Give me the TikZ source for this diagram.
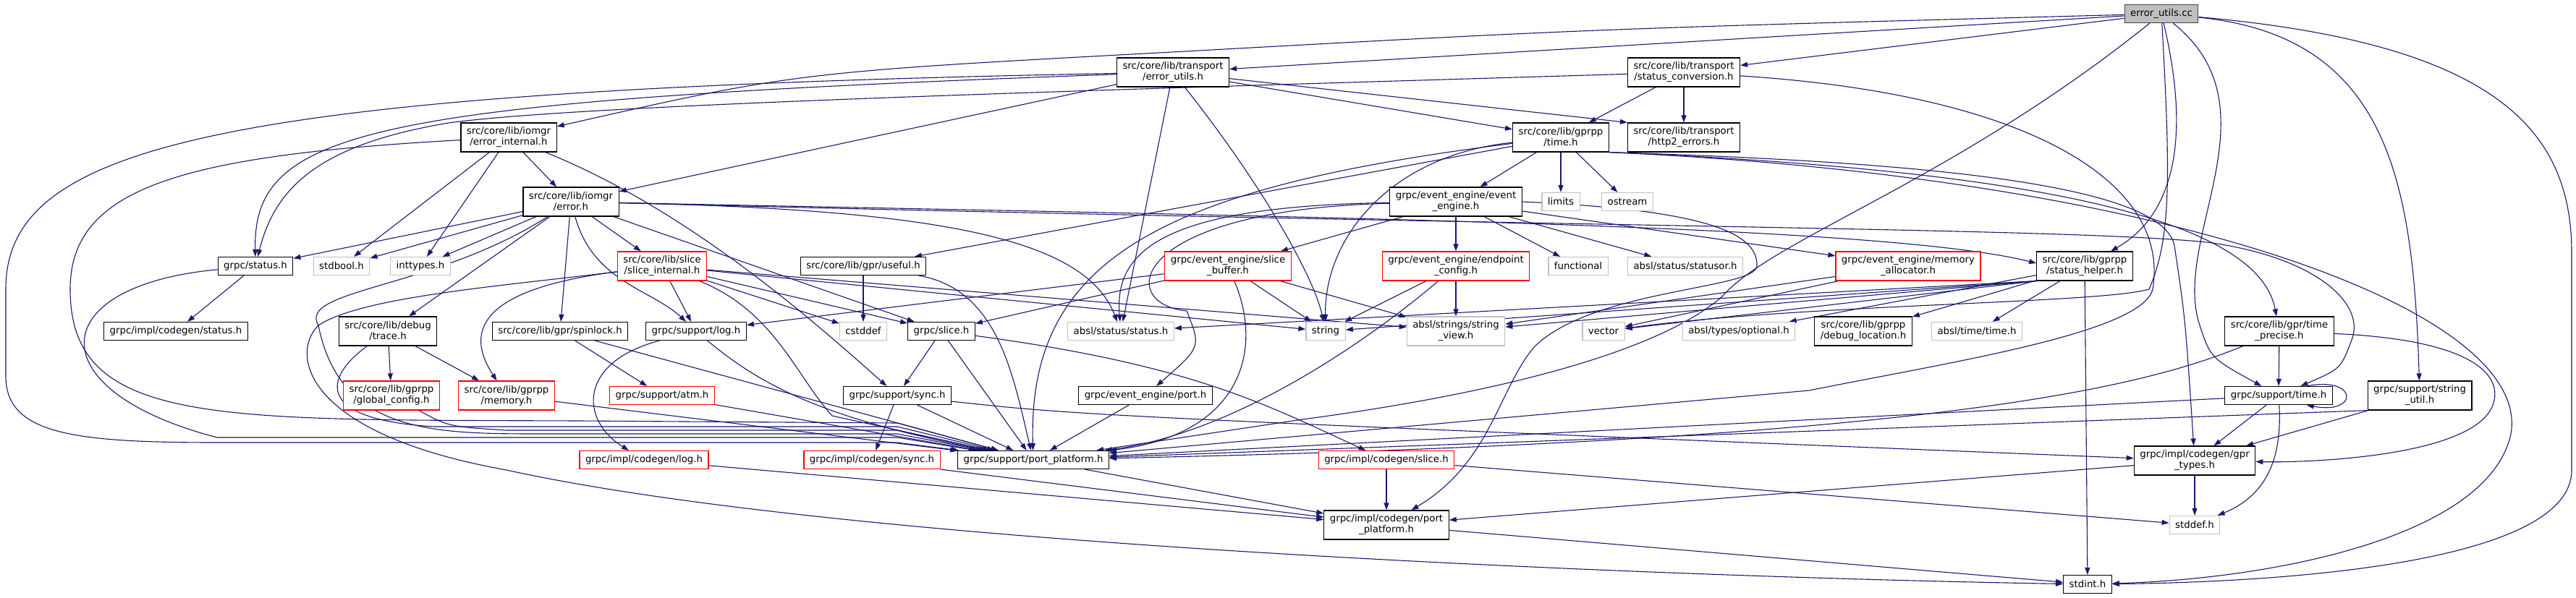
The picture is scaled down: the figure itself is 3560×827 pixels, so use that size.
\documentclass[tikz,border=0pt]{standalone}
\usepackage{fontspec}
\newfontfamily\doxyfont{DejaVu Sans}
\usepackage{tikz}
\usetikzlibrary{arrows.meta}
\usetikzlibrary{backgrounds}

\definecolor{edgeblue}{RGB}{25,25,112}
\definecolor{sysgray}{RGB}{191,191,191}
\definecolor{rootline}{RGB}{64,64,64}

\begin{document}
\begin{tikzpicture}[x=1pt,y=-1pt,
    hdr/.style={draw=black, line width=1.2pt, fill=white, align=center, inner xsep=8pt, inner ysep=2pt, minimum height=25pt, font=\doxyfont\fontsize{13.3}{15}\selectfont},
    two/.style={minimum height=40pt},
    sysh/.style={hdr, draw=sysgray},
    trunc/.style={hdr, draw=red},
    rootbox/.style={hdr, draw=rootline, fill=sysgray},
    dep/.style={draw=edgeblue, line width=1.1pt, -{Triangle[length=10pt,width=7pt]}}]
    \useasboundingbox (0,0) rectangle (3560,827);

    % rows of files
    \node[rootbox] (rt) at (2987,19) {error\_utils.cc};
    \node[hdr,two] (tu) at (1621,100) {src/core/lib/transport\\/error\_utils.h};
    \node[hdr,two] (sc) at (2327,100) {src/core/lib/transport\\/status\_conversion.h};
    \node[hdr,two] (ei) at (703,190) {src/core/lib/iomgr\\/error\_internal.h};
    \node[hdr,two] (gt) at (2157,190) {src/core/lib/gprpp\\/time.h};
    \node[hdr,two] (h2) at (2327,190) {src/core/lib/transport\\/http2\_errors.h};
    \node[hdr,two] (ie) at (789,279) {src/core/lib/iomgr\\/error.h};
    \node[hdr,two] (ee) at (2012,279) {grpc/event\_engine/event\\\_engine.h};
    \node[sysh] (lim) at (2157,279) {limits};
    \node[sysh] (ost) at (2249,279) {ostream};
    \node[hdr] (gs) at (353,368) {grpc/status.h};
    \node[sysh] (sbo) at (472,368) {stdbool.h};
    \node[sysh] (itt) at (581,368) {inttypes.h};
    \node[trunc,two] (si) at (915,368) {src/core/lib/slice\\/slice\_internal.h};
    \node[hdr] (gu) at (1193,368) {src/core/lib/gpr/useful.h};
    \node[trunc,two] (sb) at (1697,368) {grpc/event\_engine/slice\\\_buffer.h};
    \node[trunc,two] (ec) at (2012,368) {grpc/event\_engine/endpoint\\\_config.h};
    \node[sysh] (fn) at (2181,368) {functional};
    \node[sysh] (so) at (2329,368) {absl/status/statusor.h};
    \node[trunc,two] (ma) at (2637,368) {grpc/event\_engine/memory\\\_allocator.h};
    \node[hdr,two] (sh) at (2881,368) {src/core/lib/gprpp\\/status\_helper.h};
    \node[hdr] (cs) at (243,458) {grpc/impl/codegen/status.h};
    \node[hdr,two] (tr) at (536,458) {src/core/lib/debug\\/trace.h};
    \node[hdr] (spl) at (774,458) {src/core/lib/gpr/spinlock.h};
    \node[hdr] (lg) at (962,458) {grpc/support/log.h};
    \node[sysh] (csd) at (1193,458) {cstddef};
    \node[hdr] (sl) at (1301,458) {grpc/slice.h};
    \node[sysh] (as) at (1549,458) {absl/status/status.h};
    \node[sysh] (str) at (1832,458) {string};
    \node[sysh,two] (sv) at (2012,458) {absl/strings/string\\\_view.h};
    \node[sysh] (vec) at (2216,458) {vector};
    \node[sysh] (opt) at (2403,458) {absl/types/optional.h};
    \node[hdr,two] (dl) at (2575,458) {src/core/lib/gprpp\\/debug\_location.h};
    \node[sysh] (atime) at (2732,458) {absl/time/time.h};
    \node[hdr,two] (tp) at (3150,458) {src/core/lib/gpr/time\\\_precise.h};
    \node[trunc,two] (gc) at (541,547) {src/core/lib/gprpp\\/global\_config.h};
    \node[trunc,two] (mem) at (700,547) {src/core/lib/gprpp\\/memory.h};
    \node[trunc] (atm) at (915,547) {grpc/support/atm.h};
    \node[hdr] (sy) at (1240,547) {grpc/support/sync.h};
    \node[hdr] (ep) at (1583,547) {grpc/event\_engine/port.h};
    \node[hdr] (st) at (3149,547) {grpc/support/time.h};
    \node[hdr,two] (su) at (3344,547) {grpc/support/string\\\_util.h};
    \node[trunc] (cl) at (890,636) {grpc/impl/codegen/log.h};
    \node[trunc] (cy) at (1205,636) {grpc/impl/codegen/sync.h};
    \node[hdr] (pp) at (1428,636) {grpc/support/port\_platform.h};
    \node[trunc] (csl) at (1916,636) {grpc/impl/codegen/slice.h};
    \node[hdr,two] (gty) at (3033,637) {grpc/impl/codegen/gpr\\\_types.h};
    \node[hdr,two] (cpp) at (1916,726) {grpc/impl/codegen/port\\\_platform.h};
    \node[sysh] (sdd) at (3033,726) {stddef.h};
    \node[hdr] (sdi) at (2885,808) {stdint.h};

    \begin{scope}[on background layer]
    \fill[white] (0,0) rectangle (3560,827);
    % error_utils.cc
    \draw[dep] (rt) -- (tu);
    \draw[dep] (rt) -- (sc);
    \draw[dep] (rt) .. controls (2200,40) .. (1620,72) .. controls (1100,100) .. (ei);
    \draw[dep] (rt) .. controls (3030,200) and (3000,300) .. (sh);
    \draw[dep] (rt) .. controls (2700,250) and (2450,330) .. (2380,410) .. controls (2300,480) and (2100,540) .. (1800,580) -- (pp);
    \draw[dep] (rt) .. controls (3000,250) and (3000,330) .. (2970,400) .. controls (2900,420) and (2500,420) .. (vec);
    \draw[dep] (rt) .. controls (3150,150) and (3000,330) .. (3040,450) .. controls (3055,495) .. (st);
    \draw[dep] (rt) .. controls (3300,50) and (3335,250) .. (su);
    \draw[dep] (rt) .. controls (3450,60) and (3554,180) .. (3554,350) -- (3554,650) .. controls (3554,780) and (3150,805) .. (sdi);
    % transport headers
    \draw[dep] (tu) -- (ie);
    \draw[dep] (tu) -- (gt);
    \draw[dep] (tu) -- (h2.north west);
    \draw[dep] (tu) .. controls (500,140) and (350,180) .. (gs);
    \draw[dep] (tu) .. controls (300,125) and (8,200) .. (8,400) -- (8,520) .. controls (8,600) and (100,612) .. (300,612) -- (1240,612) -- (pp);
    \draw[dep] (tu) .. controls (1740,250) and (1815,380) .. (str);
    \draw[dep] (tu) -- (as);
    \draw[dep] (sc) -- (gt);
    \draw[dep] (sc) -- (h2);
    \draw[dep] (sc) .. controls (1500,125) and (800,145) .. (620,170) .. controls (440,200) and (380,260) .. (gs);
    \draw[dep] (sc) .. controls (2800,130) and (3000,250) .. (2975,400) .. controls (2960,460) and (2700,500) .. (2500,540) -- (pp);
    % iomgr
    \draw[dep] (ei) -- (ie);
    \draw[dep] (ei) -- (sbo);
    \draw[dep] (ei) -- (itt);
    \draw[dep] (ei) .. controls (250,215) and (97,260) .. (97,400) .. controls (97,590) and (300,580) .. (800,582) -- (1240,585) -- (pp);
    \draw[dep] (ei) .. controls (950,290) and (1120,440) .. (sy);
    \draw[dep] (ie) -- (gs);
    \draw[dep] (ie) -- (sbo);
    \draw[dep] (ie) -- (itt);
    \draw[dep] (ie) -- (tr);
    \draw[dep] (ie) -- (spl);
    \draw[dep] (ie) -- (si);
    \draw[dep] (ie) .. controls (820,390) and (900,400) .. (lg);
    \draw[dep] (ie) -- (sl);
    \draw[dep] (ie) .. controls (1300,290) and (1500,330) .. (as);
    \draw[dep] (ie) .. controls (1800,300) and (2600,310) .. ([yshift=4pt]sh.west);
    \draw[dep] (ie) .. controls (2200,315) and (2850,315) .. (3050,335) .. controls (3200,355) and (3270,420) .. (3250,470) .. controls (3235,510) .. (st);
    \draw[dep] (ie) .. controls (600,400) and (410,400) .. (440,450) .. controls (470,600) and (600,600) .. (750,600) -- (1240,600) -- (pp);
    % slice
    \draw[dep] (si) .. controls (700,395) and (630,440) .. (mem);
    \draw[dep] (si) -- (lg);
    \draw[dep] (si) -- (csd);
    \draw[dep] (si) -- (sl);
    \draw[dep] (si) -- (str);
    \draw[dep] (si) -- (sv);
    \draw[dep] (si) .. controls (1070,430) and (1100,520) .. (1150,575) -- (pp);
    \draw[dep] (si) .. controls (700,395) and (500,410) .. (440,450) .. controls (400,490) and (420,600) .. (700,650) .. controls (1200,760) and (2400,800) .. (sdi);
    % debug, gpr
    \draw[dep] (tr) -- (gc);
    \draw[dep] (tr) -- (mem);
    \draw[dep] (tr) .. controls (450,520) and (430,580) .. (600,590) -- (1240,590) -- (pp);
    \draw[dep] (gc) .. controls (620,590) .. (700,595) -- (1240,595) -- (pp);
    \draw[dep] (mem) -- (pp);
    \draw[dep] (spl) -- (atm);
    \draw[dep] (spl) -- (pp);
    \draw[dep] (atm) -- (pp);
    \draw[dep] (lg) .. controls (800,500) and (800,580) .. (cl);
    \draw[dep] (lg) .. controls (1060,540) and (1150,580) .. (pp);
    \draw[dep] (cl) -- (cpp);
    \draw[dep] (gu) -- (csd);
    \draw[dep] (gu) .. controls (1380,400) and (1400,520) .. (pp);
    \draw[dep] (sl) -- (sy);
    \draw[dep] (sl) -- (pp);
    \draw[dep] (sl) .. controls (1650,505) and (1750,560) .. (csl);
    \draw[dep] (sy) -- (cy);
    \draw[dep] (sy) -- (pp);
    \draw[dep] (sy) .. controls (1500,575) .. (gty);
    \draw[dep] (cy.south east) -- (cpp);
    \draw[dep] (ep) -- (pp);
    \draw[dep] (pp) -- (cpp);
    \draw[dep] (csl) -- (cpp);
    \draw[dep] (csl) -- (sdd);
    \draw[dep] (cpp) -- (sdi);
    \draw[dep] (gty) -- (cpp);
    \draw[dep] (gty) -- (sdd);
    % support time
    \draw[dep] (st) -- (gty);
    \draw[dep] (st) .. controls (3155,650) and (3120,690) .. (sdd);
    \draw[dep] (st) -- (pp);
    \draw[dep] ([xshift=-36pt]st.north east) .. controls +(72,-14) and +(72,14) .. ([xshift=-36pt]st.south east);
    \draw[dep] (tp) -- (st);
    \draw[dep] (tp) .. controls (3420,470) and (3460,520) .. (3445,560) .. controls (3420,630) and (3200,640) .. (gty);
    \draw[dep] (tp) .. controls (2950,540) and (2650,610) .. (pp);
    \draw[dep] (su.south west) -- (pp);
    \draw[dep] (su) -- (gty);
    % gprpp time
    \draw[dep] (gt) -- (ee);
    \draw[dep] (gt) -- (lim);
    \draw[dep] (gt) -- (ost);
    \draw[dep] (gt) -- (gu);
    \draw[dep] (gt) .. controls (1920,215) and (1830,330) .. (str);
    \draw[dep] (gt) .. controls (1600,260) and (1420,360) .. (pp);
    \draw[dep] (gt.south east) .. controls (2700,225) and (2990,260) .. (3005,340) .. controls (3020,440) .. (gty);
    \draw[dep] (gt.south east) .. controls (2800,235) and (3120,300) .. (tp);
    \draw[dep] (gt.south east) .. controls (3000,245) and (3500,430) .. (3470,600) .. controls (3440,740) and (3150,800) .. (sdi);
    % event engine
    \draw[dep] (ee) -- (sb);
    \draw[dep] (ee) -- (ec);
    \draw[dep] (ee) -- (fn);
    \draw[dep] (ee) -- (so);
    \draw[dep] (ee) -- (ma);
    \draw[dep] (ee) .. controls (1600,285) and (1540,350) .. (as);
    \draw[dep] (ee) .. controls (1560,290) and (1540,420) .. (1640,430) .. controls (1660,480) .. (ep);
    \draw[dep] (ee.east) .. controls (2350,290) and (2430,320) .. (2428,368) .. controls (2426,400) and (2200,400) .. (2120,480) .. controls (2070,540) and (2060,640) .. (cpp);
    \draw[dep] (sb) -- (sl);
    \draw[dep] (sb) -- (lg);
    \draw[dep] (sb) .. controls (1745,480) and (1720,600) .. (pp);
    \draw[dep] (sb) -- (str);
    \draw[dep] (sb) -- (sv);
    \draw[dep] (ec) -- (str);
    \draw[dep] (ec) -- (sv);
    \draw[dep] (ec) .. controls (1880,480) and (1700,600) .. (pp);
    \draw[dep] (ma) -- (vec);
    \draw[dep] (ma) -- (sv);
    % status helper
    \draw[dep] (sh) -- (sdi);
    \draw[dep] (sh) -- (atime);
    \draw[dep] (sh) -- (dl);
    \draw[dep] (sh) -- (opt);
    \draw[dep] (sh.south west) -- (vec);
    \draw[dep] (sh.south west) -- (sv);
    \draw[dep] (sh.south west) -- (str);
    \draw[dep] (sh.south west) -- (as);
    % grpc status
    \draw[dep] (gs) -- (cs);
    \draw[dep] (gs) .. controls (60,395) and (50,540) .. (300,605) -- (1240,605) -- (pp);
    \end{scope}
\end{tikzpicture}
\end{document}
